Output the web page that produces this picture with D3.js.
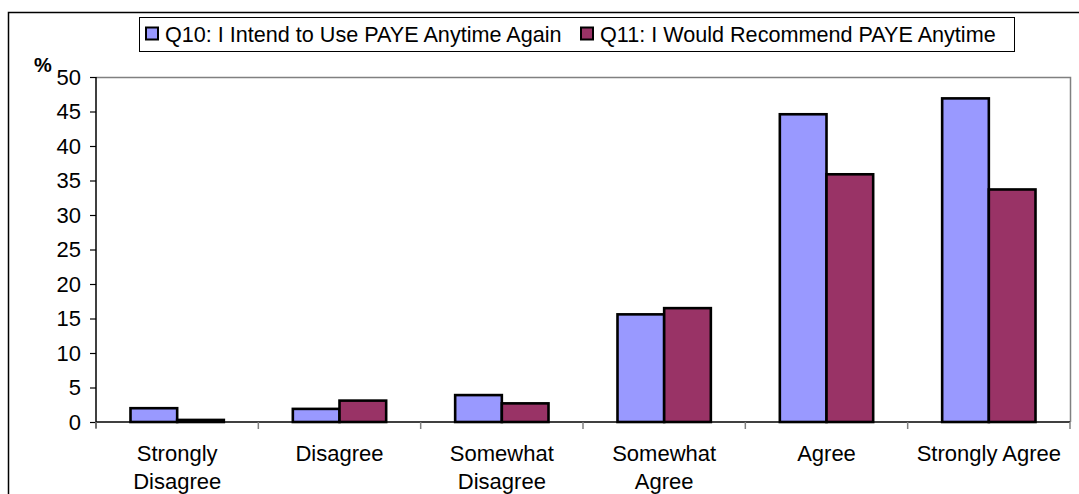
<!DOCTYPE html>
<html>
<head>
<meta charset="utf-8">
<script src="https://cdn.jsdelivr.net/npm/d3@7"></script>
<style>
  body { margin: 0; background: #fff; }
  #chart { width: 1079px; height: 494px; }
  text { font-family: Arial, "Liberation Sans", sans-serif; fill: #000; }
</style>
</head>
<body>
<div id="chart"></div>
<script>
// data
const categories = ["Strongly Disagree", "Disagree", "Somewhat Disagree", "Somewhat Agree", "Agree", "Strongly Agree"];
const categoryLines = [["Strongly", "Disagree"], ["Disagree"], ["Somewhat", "Disagree"], ["Somewhat", "Agree"], ["Agree"], ["Strongly Agree"]];
const seriesNames = ["Q10: I Intend to Use PAYE Anytime Again", "Q11: I Would Recommend PAYE Anytime"];
const q10 = [2.0, 1.9, 3.9, 15.6, 44.6, 46.9];
const q11 = [0.3, 3.1, 2.7, 16.5, 35.9, 33.7];
const yTicks = [0, 5, 10, 15, 20, 25, 30, 35, 40, 45, 50];

const colors = ["#9999FF", "#993366"];

/*
SVG
*/
const width = 1079, height = 494;
const margin = {top: 77, left: 96, right: 9, bottom: 73};

const svg = d3.select("#chart")
    .append("svg")
    .attr("width", width)
    .attr("height", height);

// outer chart border (runs off the right and bottom)
svg.append("rect")
    .attr("x", 8.5).attr("y", 12.5)
    .attr("width", 1200).attr("height", 600)
    .attr("fill", "none")
    .attr("stroke", "#000")
    .attr("stroke-width", 1.5);

/*
SCALES
*/
const xScale = d3.scaleBand()
    .domain(categories)
    .range([margin.left, width - margin.right])
    .paddingInner(0.425)
    .paddingOuter(0.2125);

const xSub = d3.scaleBand()
    .domain([0, 1])
    .range([0, xScale.bandwidth()]);

const yScale = d3.scaleLinear()
    .domain([0, 50])
    .range([height - margin.bottom + 1, margin.top]);

const plotLeft = margin.left, plotRight = width - margin.right;
const plotTop = yScale(50), plotBottom = yScale(0);

// gray plot border (top + right)
svg.append("path")
    .attr("d", `M${plotLeft},${plotTop + 0.5}H${plotRight + 0.5}V${plotBottom}`)
    .attr("fill", "none")
    .attr("stroke", "#808080")
    .attr("stroke-width", 1.5);

/*
Y AXIS
*/
const yAxis = svg.append("g")
    .attr("transform", `translate(${plotLeft},0)`)
    .call(d3.axisLeft(yScale).tickValues(yTicks).tickSize(6).tickPadding(9));
yAxis.select(".domain").remove();
yAxis.selectAll(".tick line").attr("stroke", "#000").attr("stroke-width", 1.2);
yAxis.selectAll(".tick text")
    .style("font-family", "Arial, 'Liberation Sans', sans-serif")
    .style("font-size", "22px")
    .attr("fill", "#000");

svg.append("text")
    .attr("x", 34).attr("y", 72)
    .style("font-size", "20px")
    .style("font-weight", "bold")
    .text("%");

/*
BARS
*/
const groups = svg.selectAll("g.cat")
    .data(categories)
    .enter()
    .append("g")
    .attr("class", "cat")
    .attr("transform", d => `translate(${xScale(d)},0)`);

groups.selectAll("rect")
    .data((d, i) => [q10[i], q11[i]])
    .enter()
    .append("rect")
    .attr("x", (d, j) => xSub(j))
    .attr("y", d => yScale(d))
    .attr("width", xSub.bandwidth())
    .attr("height", d => yScale(0) - yScale(d))
    .attr("fill", (d, j) => colors[j])
    .attr("stroke", "#000")
    .attr("stroke-width", 2.6);

/*
X AXIS
*/
svg.append("line")
    .attr("x1", plotLeft).attr("x2", plotRight)
    .attr("y1", plotBottom).attr("y2", plotBottom)
    .attr("stroke", "#000").attr("stroke-width", 1.5);

svg.append("line")
    .attr("x1", plotLeft).attr("x2", plotLeft)
    .attr("y1", plotTop).attr("y2", plotBottom + 6)
    .attr("stroke", "#000").attr("stroke-width", 1.5);

const step = xScale.step();
const half = (step - xScale.bandwidth()) / 2;
const bounds = categories.map(c => xScale(c) - half).concat([xScale(categories[categories.length - 1]) + xScale.bandwidth() + half]);
svg.selectAll("line.xtick")
    .data(bounds)
    .enter()
    .append("line")
    .attr("class", "xtick")
    .attr("x1", d => d).attr("x2", d => d)
    .attr("y1", plotBottom).attr("y2", plotBottom + 7)
    .attr("stroke", "#808080").attr("stroke-width", 1.5);

const labels = svg.selectAll("text.xlabel")
    .data(categoryLines)
    .enter()
    .append("text")
    .attr("class", "xlabel")
    .attr("text-anchor", "middle")
    .style("font-size", "22px")
    .attr("transform", (d, i) => `translate(${xScale(categories[i]) + xScale.bandwidth() / 2},461)`);

labels.selectAll("tspan")
    .data(d => d)
    .enter()
    .append("tspan")
    .attr("x", 0)
    .attr("y", (d, k) => k * 28)
    .text(d => d);

/*
LEGEND
*/
const legend = svg.append("g");
legend.append("rect")
    .attr("x", 139.5).attr("y", 17.5)
    .attr("width", 875).attr("height", 34)
    .attr("fill", "#fff")
    .attr("stroke", "#000")
    .attr("stroke-width", 1);

const legendX = [146, 581];
seriesNames.forEach(function(name, i) {
    legend.append("rect")
        .attr("x", legendX[i]).attr("y", 27.5)
        .attr("width", 12).attr("height", 12)
        .attr("fill", colors[i])
        .attr("stroke", "#000")
        .attr("stroke-width", 2);
    legend.append("text")
        .attr("x", legendX[i] + 19).attr("y", 42)
        .style("font-size", "21.6px")
        .text(name);
});
</script>
</body>
</html>
